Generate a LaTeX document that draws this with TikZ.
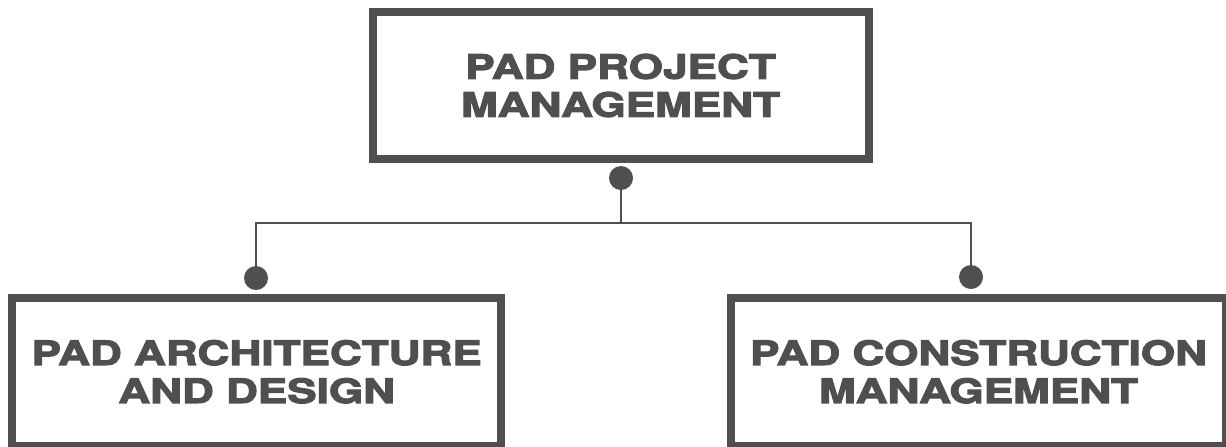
\documentclass[tikz,border=0pt]{standalone}
\usepackage{fontspec}
\newfontfamily\padfont[FakeStretch=1.32,FakeBold=3.5]{TeX Gyre Heros}
\definecolor{padgray}{HTML}{4F4F4F}
\begin{document}
\begin{tikzpicture}[x=0.5pt,y=-0.5pt,
	box/.style={draw=padgray,line width=4pt,align=center,inner sep=0pt,text=padgray,
		font=\padfont\bfseries\fontsize{16.7}{19}\selectfont},
	dot/.style={circle,fill=padgray,inner sep=0pt,minimum size=12pt},
	link/.style={draw=padgray,line width=1.3pt}]
	\useasboundingbox (0,0) rectangle (1226,446);
	\node[box,minimum width=248pt,minimum height=73.25pt] (pm) at (620.5,85.5) {PAD PROJECT\\MANAGEMENT};
	\node[box,minimum width=244.25pt,minimum height=73.75pt] (ad) at (256.7,371.75) {PAD ARCHITECTURE\\AND DESIGN};
	\node[box,minimum width=247.5pt,minimum height=73.75pt] (cm) at (978.5,371.75) {PAD CONSTRUCTION\\MANAGEMENT};
	\node[dot] (pmdot) at (621,178) {};
	\node[dot] (addot) at (256,278) {};
	\node[dot] (cmdot) at (971,277) {};
	\coordinate (split) at (621,223);
	\draw[link] (pmdot) -- (split) -| (addot);
	\draw[link] (split) -| (cmdot);
\end{tikzpicture}
\end{document}
